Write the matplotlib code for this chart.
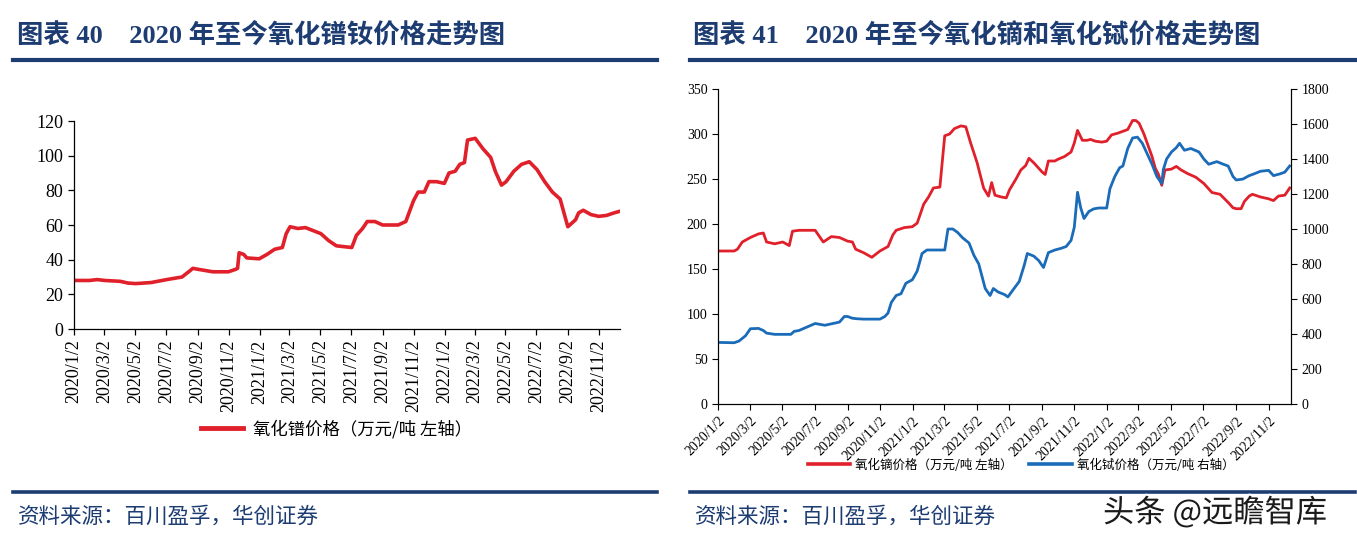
import matplotlib
matplotlib.use("Agg")
import matplotlib.pyplot as plt
from matplotlib.lines import Line2D
import matplotlib.patheffects as pe
import pandas as pd
import numpy as np

W, H = 1357, 541
START = pd.Timestamp("2020-01-02")
END = pd.Timestamp("2022-12-14")

# ---- data: month offsets from 2020/1/2 and prices ----
prnd_m = [0, 1, 1.5, 2, 3, 3.5, 4, 5, 6, 7, 7.5, 7.7, 8, 9, 10, 10.5, 10.6, 10.7, 11, 11.2,
          12, 12.5, 13, 13.5, 13.75, 14, 14.5, 15, 16, 16.5, 17, 18, 18.3, 18.7, 19, 19.5,
          20, 21, 21.5, 22, 22.3, 22.7, 23, 23.5, 24, 24.3, 24.7, 25, 25.3, 25.5, 26, 26.5,
          27, 27.3, 27.7, 28, 28.5, 29, 29.5, 30, 30.5, 31, 31.5, 32, 32.5, 32.7, 33, 33.5,
          34, 34.5, 35, 35.4]
prnd_v = [28, 28, 28.5, 28, 27.5, 26.5, 26.2, 26.8, 28.5, 30, 33.5, 35, 34.5, 33, 33, 34.5, 35, 44, 43, 41,
          40.5, 43, 46, 47, 55, 59, 58, 58.5, 55, 51, 48, 47, 54, 58, 62, 62,
          60, 60, 62, 74, 79, 79, 85, 85, 84, 90, 91, 95, 96, 109, 110, 104,
          99, 91, 83, 85, 91, 95, 96.5, 92, 85, 79, 75, 59, 63, 67, 68.5, 66,
          65, 65.5, 67, 68]

dy_m = [0, 1, 1.2, 1.5, 2, 2.5, 2.8, 3, 3.5, 4, 4.4, 4.6, 5, 6, 6.5, 7, 7.5, 8, 8.3, 8.5,
        9, 9.5, 10, 10.5, 10.8, 11, 11.5, 12, 12.3, 12.7, 13, 13.3, 13.7, 14, 14.3, 14.6,
        15, 15.3, 15.6, 16, 16.4, 16.7, 16.9, 17.1, 17.5, 17.8, 18, 18.4, 18.7, 19, 19.2,
        19.5, 19.8, 20, 20.2, 20.4, 20.8, 21, 21.4, 21.8, 22, 22.2, 22.5, 22.8, 23, 23.3,
        23.7, 24, 24.3, 24.7, 25, 25.3, 25.6, 25.8, 26, 26.3, 26.6, 26.8, 27, 27.2, 27.4,
        27.6, 28, 28.3, 28.6, 29, 29.5, 30, 30.5, 31, 31.5, 31.8, 32, 32.3, 32.5, 32.8,
        33, 33.5, 34, 34.3, 34.6, 35, 35.3]
dy_v = [170, 170, 172, 180, 185, 189, 190, 180, 178, 180, 176, 192, 193, 193, 180, 186, 185, 181, 180, 172,
        168, 163, 170, 175, 188, 193, 196, 197, 201, 222, 230, 240, 241, 298, 300, 306,
        309, 308, 290, 268, 240, 231, 246, 232, 230, 229, 238, 250, 260, 265, 273,
        268, 262, 258, 255, 270, 270, 272, 275, 280, 290, 304, 293, 293, 294, 292,
        291, 292, 299, 301, 303, 305, 315, 315, 312, 300, 285, 275, 262, 255, 243,
        260, 261, 264, 260, 256, 252, 245, 235, 233, 224, 218, 217, 217, 225, 231,
        233, 230, 228, 226, 231, 232, 240]

tb_m = [0, 1, 1.3, 1.7, 2, 2.5, 2.8, 3, 3.5, 4, 4.5, 4.7, 5, 5.5, 6, 6.3, 6.6, 7, 7.5, 7.8,
        8, 8.3, 8.6, 9, 9.5, 10, 10.3, 10.5, 10.7, 11, 11.3, 11.6, 12, 12.3, 12.6, 12.9,
        13.3, 14, 14.2, 14.5, 14.8, 15.1, 15.5, 15.8, 16.1, 16.5, 16.8, 17, 17.3, 17.7,
        17.9, 18.2, 18.6, 18.9, 19.1, 19.5, 19.8, 20.1, 20.4, 20.8, 21.2, 21.5, 21.8, 22.0,
        22.2, 22.4, 22.6, 22.9, 23.2, 23.5, 24, 24.2, 24.5, 24.8, 25, 25.3, 25.6, 25.9,
        26.2, 26.5, 26.8, 27.1, 27.4, 27.5, 27.7, 28, 28.3, 28.5, 28.8, 29.2, 29.7, 30,
        30.3, 30.8, 31.2, 31.5, 31.8, 32, 32.4, 32.8, 33.1, 33.5, 34, 34.3, 34.7, 35, 35.3]
tb_v = [352, 350, 360, 390, 430, 432, 420, 405, 398, 398, 398, 415, 420, 440, 460, 455, 450, 458, 468, 500,
        500, 490, 487, 485, 485, 485, 500, 520, 580, 620, 630, 690, 710, 760, 860, 880,
        880, 880, 1000, 1000, 980, 950, 920, 850, 800, 660, 620, 660, 640, 625,
        612, 650, 700, 790, 860, 845, 820, 780, 865, 880, 890, 900, 935, 1010,
        1210, 1120, 1060, 1100, 1115, 1120, 1120, 1230, 1300, 1350, 1360, 1460, 1520, 1525,
        1490, 1430, 1370, 1300, 1260, 1340, 1400, 1440, 1465, 1490, 1450, 1460, 1440, 1400,
        1370, 1385, 1370, 1360, 1300, 1280, 1285, 1305, 1315, 1330, 1335, 1305, 1315, 1325, 1360]

tick_labels = ["2020/1/2", "2020/3/2", "2020/5/2", "2020/7/2", "2020/9/2", "2020/11/2",
               "2021/1/2", "2021/3/2", "2021/5/2", "2021/7/2", "2021/9/2", "2021/11/2",
               "2022/1/2", "2022/3/2", "2022/5/2", "2022/7/2", "2022/9/2", "2022/11/2"]

title_left = "图表 40    2020 年至今氧化镨钕价格走势图"
title_right = "图表 41    2020 年至今氧化镝和氧化铽价格走势图"
legend_left = "氧化镨价格（万元/吨 左轴）"
legend_dy = "氧化镝价格（万元/吨 左轴）"
legend_tb = "氧化铽价格（万元/吨 右轴）"
source = "资料来源：百川盈孚，华创证券"
watermark = "头条 @远瞻智库"


def to_dates(months):
    return START + pd.to_timedelta(np.asarray(months) * 30.44, unit="D")


tick_dates = pd.to_datetime(tick_labels, format="%Y/%m/%d")

RED = "#E0202A"
BLUE = "#1A6BB8"
NAVY = "#1C3C72"
SERIF = ["Liberation Serif", "Noto Sans CJK SC"]
CJK = ["Noto Sans CJK SC", "DejaVu Sans"]

fig = plt.figure(figsize=(W / 100, H / 100), dpi=100)
fig.patch.set_facecolor("white")


def fx(px):
    return px / W


def fy(py):
    return 1 - py / H


# titles and rules
fig.text(fx(17), fy(35), title_left, family=SERIF, weight="bold", fontsize=19,
         color=NAVY, va="center", ha="left")
fig.text(fx(693), fy(35), title_right, family=SERIF, weight="bold", fontsize=19,
         color=NAVY, va="center", ha="left")
for (x0, x1) in [(13, 657), (690, 1355)]:
    fig.add_artist(Line2D([fx(x0), fx(x1)], [fy(60), fy(60)], color=NAVY, lw=3.0,
                          transform=fig.transFigure))
    fig.add_artist(Line2D([fx(x0), fx(x1)], [fy(492), fy(492)], color=NAVY, lw=2.6,
                          transform=fig.transFigure))
fig.text(fx(18), fy(517), source, family=CJK, fontsize=15.5, color=NAVY, va="center",
         ha="left", style="italic")
fig.text(fx(695), fy(517), source, family=CJK, fontsize=15.5, color=NAVY, va="center",
         ha="left", style="italic")
wm = fig.text(fx(1215), fy(513), watermark, family=CJK, fontsize=22.5, color="#1a1a1a",
              va="center", ha="center")
wm.set_path_effects([pe.withStroke(linewidth=3, foreground="white")])

# ---- left chart ----
axL = fig.add_axes([fx(74), fy(329), fx(620) - fx(74), (329 - 121) / H])
axL.plot(to_dates(prnd_m), prnd_v, color=RED, lw=2.6, label=legend_left)
axL.set_ylim(0, 120)
axL.set_yticks(range(0, 121, 20))
axL.set_xlim(START, END)
axL.set_xticks(tick_dates)
axL.set_xticklabels(tick_labels, rotation=90, va="top", ha="center")
for s in ["top", "right"]:
    axL.spines[s].set_visible(False)
for s in ["left", "bottom"]:
    axL.spines[s].set_linewidth(0.9)
axL.tick_params(axis="both", direction="out", length=4, width=0.9)
for lab in axL.get_xticklabels() + axL.get_yticklabels():
    lab.set_family(SERIF)
    lab.set_fontsize(13)
hL, lL = axL.get_legend_handles_labels()
fig.legend([Line2D([], [], color=RED, lw=3.5)], lL, loc="center",
           bbox_to_anchor=(fx(337), fy(429)), frameon=False,
           prop={"family": CJK, "size": 12.5}, handlelength=2.4, handletextpad=0.6)

# ---- right chart ----
axR = fig.add_axes([fx(718), fy(404), fx(1291) - fx(718), (404 - 89) / H])
axR.plot(to_dates(dy_m), dy_v, color=RED, lw=2.0)
axR.set_ylim(0, 350)
axR.set_yticks(range(0, 351, 50))
axR.set_xlim(START, END)
axR.set_xticks(tick_dates)
axR.set_xticklabels(tick_labels, rotation=45, ha="right", va="top", rotation_mode="anchor")
axT = axR.twinx()
axT.plot(to_dates(tb_m), tb_v, color=BLUE, lw=2.0)
axT.set_ylim(0, 1800)
axT.set_yticks(range(0, 1801, 200))
axT.set_xlim(START, END)
for a in (axR, axT):
    a.spines["top"].set_visible(False)
    for s in ["left", "right", "bottom"]:
        a.spines[s].set_linewidth(0.8)
    a.tick_params(axis="both", direction="out", length=4, width=0.8)
for lab in axR.get_xticklabels() + axR.get_yticklabels() + axT.get_yticklabels():
    lab.set_family(SERIF)
    lab.set_fontsize(10)
fig.legend([Line2D([], [], color=RED, lw=2.6), Line2D([], [], color=BLUE, lw=2.6)],
           [legend_dy, legend_tb], loc="center", ncol=2,
           bbox_to_anchor=(fx(1021), fy(465)), frameon=False,
           prop={"family": CJK, "size": 9}, handlelength=3.4, handletextpad=0.4,
           columnspacing=1.3)

fig.savefig("out.png", dpi=100, facecolor="white")
